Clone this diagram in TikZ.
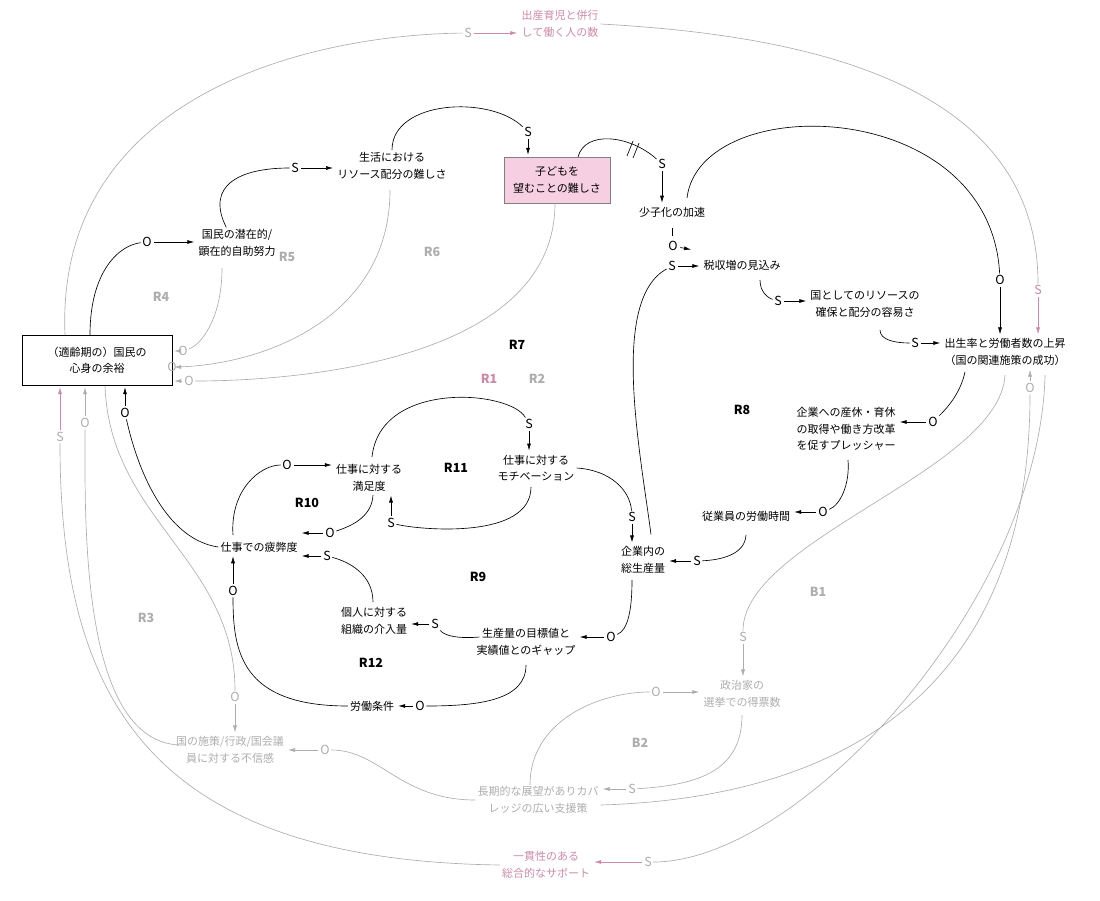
\documentclass[tikz,border=0pt]{standalone}
\usepackage{fontspec}
\setmainfont{Noto Sans CJK JP}
\usetikzlibrary{arrows.meta,calc}
\definecolor{grayc}{HTML}{ADADAD}
\definecolor{pinkc}{HTML}{CC8AA8}
\definecolor{boxpink}{HTML}{F6CFE2}
\tikzset{
  var/.style={align=center, font=\fontsize{11}{16.5}\selectfont, inner sep=2pt},
  pol/.style={font=\fontsize{12.5}{12}\selectfont, inner sep=1.5pt},
  lnk/.style={line width=0.65pt},
  arr/.style={line width=0.65pt, -{Latex[length=7pt,width=4pt]}, shorten <=1pt, shorten >=2pt},
  loopb/.style={font=\bfseries\fontsize{12.5}{12}\selectfont},
  loopg/.style={font=\bfseries\fontsize{12.5}{12}\selectfont, text=grayc},
}
\begin{document}
\begin{tikzpicture}[x=1pt, y=-1pt]
\useasboundingbox (0,0) rectangle (1100,900);

% Variablen
\node[var, draw, fill=white, minimum width=150, minimum height=50] (yoyu) at (97,360) {（適齢期の）国民の\\心身の余裕};
\node[var, text=pinkc] (shussan) at (560,24) {出産育児と併行\\して働く人の数};
\node[var] (sennzai) at (237,243) {国民の潜在的/\\顕在的自助努力};
\node[var] (seikatsu) at (392,166) {生活における\\リソース配分の難しさ};
\node[var, draw=gray, fill=boxpink, minimum width=106, minimum height=46] (kodomo) at (557,180) {子どもを\\望むことの難しさ};
\node[var] (shoshika) at (672,212) {少子化の加速};
\node[var] (zeishu) at (742,265) {税収増の見込み};
\node[var] (kuni) at (865,304) {国としてのリソースの\\確保と配分の容易さ};
\node[var] (shusshou) at (1005,352) {出生率と労働者数の上昇\\（国の関連施策の成功）};
\node[var] (pressure) at (846,429) {企業への産休・育休\\の取得や働き方改革\\を促すプレッシャー};
\node[var] (jikan) at (746,516) {従業員の労働時間};
\node[var] (seisan) at (643,560) {企業内の\\総生産量};
\node[var] (gap) at (526,642) {生産量の目標値と\\実績値とのギャップ};
\node[var] (kainyu) at (374,621) {個人に対する\\組織の介入量};
\node[var] (joken) at (372,706) {労働条件};
\node[var] (hiro) at (259,547) {仕事での疲弊度};
\node[var] (manzoku) at (369,478) {仕事に対する\\満足度};
\node[var] (motive) at (536,468) {仕事に対する\\モチベーション};
\node[var, text=grayc] (seijika) at (742,694) {政治家の\\選挙での得票数};
\node[var, text=grayc] (choki) at (538,800) {長期的な展望がありカバ\\レッジの広い支援策};
\node[var, text=grayc] (fushin) at (230,750) {国の施策/行政/国会議\\員に対する不信感};
\node[var, text=pinkc] (ikkan) at (546,865) {一貫性のある\\総合的なサポート};

% Loops
\node[loopb] (r7) at (517,345) {R7};
\node[loopb, text=pinkc] (r1) at (489,379) {R1};
\node[loopg] (r2) at (537,379) {R2};
\node[loopg] (r4) at (161,297) {R4};
\node[loopg] (r5) at (287,257) {R5};
\node[loopg] (r6) at (432,252) {R6};
\node[loopb] (r8) at (742,410) {R8};
\node[loopg] (r3) at (146,618) {R3};
\node[loopb] (r9) at (478,577) {R9};
\node[loopb] (r10) at (307,503) {R10};
\node[loopb] (r11) at (456,468) {R11};
\node[loopb] (r12) at (371,663) {R12};
\node[loopg] (b1) at (818,592) {B1};
\node[loopg] (b2) at (640,743) {B2};

% Polaritaeten (schwarz)
\node[pol] (p1) at (295,168) {S};
\node[pol] (p2) at (528,132) {S};
\node[pol] (p3) at (662,164) {S};
\node[pol] (p4) at (1000,280) {O};
\node[pol] (p5) at (673,246) {O};
\node[pol] (p6) at (672,266) {S};
\node[pol] (p7) at (778,301) {S};
\node[pol] (p8) at (915,343) {S};
\node[pol] (p9) at (933,422) {O};
\node[pol] (p10) at (823,512) {O};
\node[pol] (p11) at (697,561) {S};
\node[pol] (p12) at (632,517) {S};
\node[pol] (p13) at (611,637) {O};
\node[pol] (p14) at (435,624) {S};
\node[pol] (p15) at (420,706) {O};
\node[pol] (p16) at (233,591) {O};
\node[pol] (p17) at (327,556) {S};
\node[pol] (p18) at (330,533) {O};
\node[pol] (p19) at (391,523) {S};
\node[pol] (p20) at (287,465) {O};
\node[pol] (p21) at (529,424) {S};
\node[pol] (p22) at (125,413) {O};
\node[pol] (p23) at (147,242) {O};
% Polaritaeten (grau/rosa)
\node[pol, text=grayc] (q1) at (183,351) {O};
\node[pol, text=grayc] (q2) at (172,367) {O};
\node[pol, text=grayc] (q3) at (189,381) {O};
\node[pol, text=grayc] (q4) at (468,33) {S};
\node[pol, text=pinkc] (q5) at (1038,290) {S};
\node[pol, text=grayc] (q6) at (1030,388) {O};
\node[pol, text=grayc] (q7) at (743,637) {S};
\node[pol, text=grayc] (q8) at (632,789) {S};
\node[pol, text=grayc] (q9) at (656,692) {O};
\node[pol, text=grayc] (q10) at (325,750) {O};
\node[pol, text=grayc] (q11) at (235,697) {O};
\node[pol, text=grayc] (q12) at (85,423) {O};
\node[pol, text=grayc] (q13) at (60,437) {S};
\node[pol, text=grayc] (q14) at (648,862) {S};

% Kanten (schwarz)
\draw[lnk] (sennzai.north west) ++(30,0) .. controls (205,185) and (240,168) .. (p1);
\draw[arr] (p1) -- (p1 -| seikatsu.west);
\draw[lnk] (392,150) .. controls (392,100) and (490,95) .. (p2);
\draw[arr] (p2) -- (p2 |- kodomo.north);
\draw[lnk] (578,157) .. controls (585,130) and (630,135) .. (p3);
\draw[lnk] (627,156) -- (633,141) (633,158) -- (639,143);
\draw[arr] (p3) -- (p3 |- shoshika.north);
\draw[lnk] (687,198) .. controls (700,90) and (990,95) .. (p4);
\draw[arr] (p4) -- (p4 |- shusshou.north);
\draw[lnk] (672,228) -- (672,236);
\draw[arr] (p5) -- ++(20,4);
\draw[lnk] (seisan.north) ++(8,-10) .. controls (640,450) and (610,300) .. (p6);
\draw[arr] (p6) -- (p6 -| zeishu.west);
\draw[lnk] (760,280) .. controls (760,292) and (768,298) .. (p7);
\draw[arr] (p7) -- (p7 -| kuni.west);
\draw[lnk] (880,330) .. controls (880,340) and (895,343) .. (p8);
\draw[arr] (p8) -- (p8 -| shusshou.west);
\draw[lnk] (965,372) .. controls (960,395) and (945,410) .. (p9);
\draw[arr] (p9) -- (p9 -| pressure.east);
\draw[lnk] (848,460) .. controls (850,485) and (840,505) .. (p10);
\draw[arr] (p10) -- (p10 -| jikan.east);
\draw[lnk] (746,535) .. controls (745,555) and (720,560) .. (p11);
\draw[arr] (p11) -- (p11 -| seisan.east);
\draw[lnk] (motive.east) .. controls (610,470) and (630,490) .. (p12);
\draw[arr] (p12) -- (p12 |- seisan.north);
\draw[lnk] (632,580) .. controls (632,610) and (628,630) .. (p13);
\draw[arr] (p13) -- (p13 -| gap.east);
\draw[lnk] (gap.west) ++(5,-5) .. controls (445,640) and (440,630) .. (p14);
\draw[arr] (p14) -- (p14 -| kainyu.east);
\draw[lnk] (526,665) .. controls (526,700) and (480,706) .. (p15);
\draw[arr] (p15) -- (p15 -| joken.east);
\draw[lnk] (joken.west) .. controls (240,706) and (233,650) .. (p16);
\draw[arr] (p16) -- (p16 |- hiro.south);
\draw[lnk] (373,602) .. controls (373,575) and (350,562) .. (p17);
\draw[arr] (p17) -- (p17 -| hiro.east);
\draw[lnk] (373,495) .. controls (372,515) and (355,525) .. (p18);
\draw[arr] (p18) -- (p18 -| hiro.east);
\draw[lnk] (531,487) .. controls (531,540) and (420,530) .. (p19);
\draw[arr] (p19) -- (p19 |- manzoku.south);
\draw[lnk] (233,535) .. controls (230,490) and (260,465) .. (p20);
\draw[arr] (p20) -- (p20 -| manzoku.west);
\draw[lnk] (372,457) .. controls (380,380) and (510,390) .. (p21);
\draw[arr] (p21) -- (p21 |- motive.north);
\draw[lnk] (hiro.west) .. controls (170,540) and (140,480) .. (p22);
\draw[arr] (p22) -- (p22 |- yoyu.south);
\draw[lnk] (90,335) .. controls (90,270) and (120,245) .. (p23);
\draw[arr] (p23) -- (p23 -| sennzai.west);

% Kanten (grau/rosa)
\begin{scope}[draw=grayc]
\draw[lnk] (222,268) .. controls (222,320) and (200,345) .. (q1);
\draw[arr] (q1) -- (q1 -| yoyu.east);
\draw[lnk] (390,190) .. controls (390,320) and (260,365) .. (q2);
\draw[arr] (q2) -- (q2 -| yoyu.east);
\draw[lnk] (555,203) .. controls (555,360) and (300,381) .. (q3);
\draw[arr] (q3) -- (q3 -| yoyu.east);
\draw[lnk] (65,335) .. controls (55,100) and (300,35) .. (q4);
\draw[arr, draw=pinkc] (q4) -- (q4 -| shussan.west);
\draw[lnk] (shussan.east) .. controls (800,35) and (1038,80) .. (q5);
\draw[arr, draw=pinkc] (q5) -- (q5 |- shusshou.north);
\draw[lnk] (choki.east) ++(0,5) .. controls (760,800) and (1030,750) .. (q6);
\draw[arr] (q6) -- (q6 |- shusshou.south);
\draw[lnk] (1005,375) .. controls (1000,470) and (743,540) .. (q7);
\draw[arr] (q7) -- (q7 |- seijika.north);
\draw[lnk] (742,715) .. controls (742,770) and (700,785) .. (q8);
\draw[arr] (q8) -- (q8 -| choki.east);
\draw[lnk] (530,785) .. controls (530,720) and (600,692) .. (q9);
\draw[arr] (q9) -- (q9 -| seijika.west);
\draw[lnk] (choki.west) .. controls (400,800) and (380,750) .. (q10);
\draw[arr] (q10) -- (q10 -| fushin.east);
\draw[lnk] (105,386) .. controls (110,520) and (235,560) .. (q11);
\draw[arr] (q11) -- (q11 |- fushin.north);
\draw[lnk] (fushin.west) ++(5,-5) .. controls (80,740) and (85,520) .. (q12);
\draw[arr] (q12) -- (q12 |- yoyu.south);
\draw[lnk] (ikkan.west) .. controls (150,860) and (60,700) .. (q13);
\draw[arr, draw=pinkc] (q13) -- (q13 |- yoyu.south);
\draw[lnk] (1045,375) .. controls (1040,600) and (800,862) .. (q14);
\draw[arr, draw=pinkc] (q14) -- (q14 -| ikkan.east);
\end{scope}
\end{tikzpicture}
\end{document}
